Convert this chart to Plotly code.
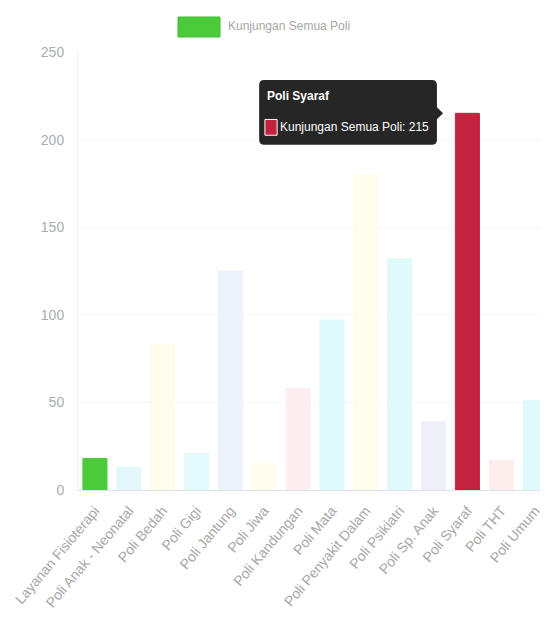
import plotly.graph_objects as go

categories = ["Layanan Fisioterapi", "Poli Anak - Neonatal", "Poli Bedah", "Poli Gigi",
              "Poli Jantung", "Poli Jiwa", "Poli Kandungan", "Poli Mata",
              "Poli Penyakit Dalam", "Poli Psikiatri", "Poli Sp. Anak", "Poli Syaraf",
              "Poli THT", "Poli Umum"]
values = [18, 13, 83, 21, 125, 15, 58, 97, 180, 132, 39, 215, 17, 51]
colors = ["#4bcb3a", "#e3f8fb", "#fffcec", "#e5fafb", "#eef2fb", "#fffdee", "#fdeef1",
          "#dff9fc", "#fffdec", "#e1fafc", "#eeeff8", "#c2233f", "#fdeeee", "#dff9fc"]
series_name = "Kunjungan Semua Poli"
y_ticks = [0, 50, 100, 150, 200, 250]
hover_index = categories.index("Poli Syaraf")

FONT = "Liberation Sans"
OFF = 8  # page body margin offset
fig = go.Figure()
fig.add_trace(go.Bar(
    x=list(range(len(categories))), y=values, name=series_name,
    marker=dict(color=colors, line=dict(color=colors, width=1)),
    showlegend=False,
))

# layout geometry (window pixels: plot from x=78..548, y=52..490)
W, H = 548 - OFF, 625 - OFF
L, R, T, B = 78 - OFF, 0, 52 - OFF, 135
x_range = [-0.5, 13.38]
y_range = [0, 250]
pw = W - L - R
ph = H - T - B
ux = pw / (x_range[1] - x_range[0])
uy = ph / (y_range[1] - y_range[0])

fig.update_layout(
    width=W, height=H,
    margin=dict(l=L, r=R, t=T, b=B, autoexpand=False),
    paper_bgcolor="white", plot_bgcolor="white",
    bargap=0.29,
    font=dict(family=FONT, color="#a6a6a6"),
    xaxis=dict(range=x_range, tickmode="array", tickvals=list(range(len(categories))),
               ticktext=categories, tickangle=-50, tickfont=dict(size=14, color="#a8a8a8"),
               ticks="outside", ticklen=6, tickcolor="rgba(0,0,0,0)", automargin=False,
               showgrid=False, showline=True, linecolor="#dde3e8", linewidth=1,
               zeroline=False, fixedrange=True),
    yaxis=dict(range=y_range, tickvals=y_ticks, tickfont=dict(size=14, color="#a9aeb3"),
               ticks="outside", ticklen=10, tickcolor="rgba(0,0,0,0)", automargin=False,
               showgrid=True, gridcolor="#f8f8f8", showline=True, linecolor="#f2f2f2",
               zeroline=False, fixedrange=True),
)

# legend (Chart.js style) drawn manually; px given in window pixels
def px_x(p):
    return (p - OFF - L) / pw
def px_y(p):
    return (H - B - (p - OFF)) / ph

fig.add_shape(type="rect", xref="paper", yref="paper",
              x0=px_x(178), x1=px_x(220), y0=px_y(37), y1=px_y(17),
              fillcolor="#4bcb3a", line=dict(color="#3fbf30", width=1))
fig.add_annotation(xref="paper", yref="paper", x=px_x(226), y=px_y(26),
                   text=series_name, showarrow=False, xanchor="left", yanchor="middle",
                   font=dict(family=FONT, size=12, color="#a6a6a6"))

# tooltip anchored at hovered bar
i = hover_index
v = values[i]
left = i - 6.15
right = i - 0.9
top = v + 19
bot = v - 18
rx = 5 / ux
ry = 5 / uy
path = (f"M {left+rx},{top} L {right-rx},{top} Q {right},{top} {right},{top-ry} "
        f"L {right},{v+3.4} L {i-0.72},{v} L {right},{v-3.4} "
        f"L {right},{bot+ry} Q {right},{bot} {right-rx},{bot} "
        f"L {left+rx},{bot} Q {left},{bot} {left},{bot+ry} "
        f"L {left},{top-ry} Q {left},{top} {left+rx},{top} Z")
fig.add_shape(type="path", xref="x", yref="y", path=path,
              fillcolor="rgba(20,20,20,0.92)", line=dict(width=0))
fig.add_annotation(xref="x", yref="y", x=left + 6 / ux, y=v + 10,
                   text="<b>" + categories[i] + "</b>", showarrow=False,
                   xanchor="left", yanchor="middle",
                   font=dict(family=FONT, size=12, color="white"))
fig.add_shape(type="rect", xref="x", yref="y",
              x0=i - 5.98, x1=i - 5.62, y0=v - 12.5, y1=v - 3.5,
              fillcolor=colors[i], line=dict(color="white", width=1))
fig.add_annotation(xref="x", yref="y", x=i - 5.58, y=v - 8,
                   text=f"{series_name}: {v}", showarrow=False,
                   xanchor="left", yanchor="middle",
                   font=dict(family=FONT, size=12, color="white"))

fig.write_html("out.html")
